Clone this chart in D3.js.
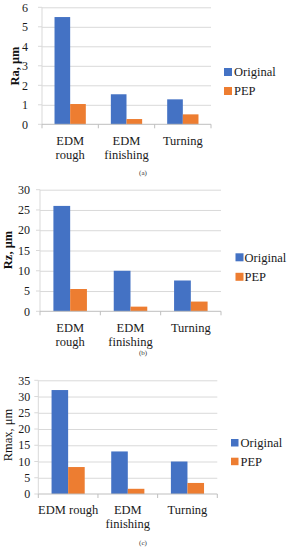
<!DOCTYPE html>
<html>
<head>
<meta charset="utf-8">
<script src="https://cdnjs.cloudflare.com/ajax/libs/d3/7.8.5/d3.min.js"></script>
<style>
  body { margin: 0; background: #fff; }
  svg text { font-family: "Liberation Serif", "Times New Roman", Times, "DejaVu Serif", serif; }
  .grid line { stroke: #d9d9d9; }
  .grid .domain { display: none; }
  .ticklab { font-size: 12px; fill: #1a1a1a; }
  .cat { font-size: 12.5px; fill: #1a1a1a; }
  .legend text { font-size: 12.5px; fill: #1a1a1a; }
  .ytitle { font-size: 12.5px; fill: #111; }
  .panel { font-size: 7px; fill: #333; }
</style>
</head>
<body>
<script>
var categories = ["EDM rough", "EDM finishing", "Turning"];
var seriesNames = ["Original", "PEP"];
var colors = ["#4472C4", "#ED7D31"];

var raOriginal = [5.5, 1.54, 1.28];
var raPEP = [1.04, 0.27, 0.51];
var rzOriginal = [26, 10, 7.6];
var rzPEP = [5.5, 1.15, 2.4];
var rmaxOriginal = [32, 13.1, 10];
var rmaxPEP = [8.3, 1.6, 3.4];

var raTicks = [0, 1, 2, 3, 4, 5, 6];
var rzTicks = [0, 5, 10, 15, 20, 25, 30];
var rmaxTicks = [0, 5, 10, 15, 20, 25, 30, 35];

var yTitles = ["Ra, \u03bcm", "Rz, \u03bcm", "Rmax, \u03bcm"];
var panelLabels = ["(a)", "(b)", "(c)"];

var serif = "'Liberation Serif', 'Times New Roman', Times, 'DejaVu Serif', serif";

//wrap function
function wrap(text, width, lineHeight) {
  text.each(function() {
    var text = d3.select(this),
        words = text.text().split(/\s+/).reverse(),
        word,
        line = [],
        lineNumber = 0,
        x = text.attr("x"),
        y = text.attr("y"),
        tspan = text.text(null).append("tspan").attr("x", x).attr("y", y);
    while (word = words.pop()) {
      line.push(word);
      tspan.text(line.join(" "));
      if (tspan.node().getComputedTextLength() > width && line.length > 1) {
        line.pop();
        tspan.text(line.join(" "));
        line = [word];
        tspan = text.append("tspan").attr("x", x).attr("y", +y + (++lineNumber) * lineHeight).text(word);
      }
    }
  });
}

var svg = d3.select("body").append("svg").attr("width", 290).attr("height", 550)
  .attr("font-family", serif);

var panels = [
  {orig: raOriginal, pep: raPEP, ticks: raTicks, title: yTitles[0], bold: true, label: panelLabels[0],
   left: 42, right: 211, top: 7.3, bottom: 124.3, tickGap: 14, titleX: 15, titleY: 66,
   catY: 145, catLine: 13.5, wrapW: 50, legX: 224, legY: 68, legStep: 19, legSize: 8, legTextGap: 2, panelY: 175},
  {orig: rzOriginal, pep: rzPEP, ticks: rzTicks, title: yTitles[1], bold: true, label: panelLabels[1],
   left: 40, right: 221, top: 189.7, bottom: 311.3, tickGap: 10, titleX: 8, titleY: 250,
   catY: 331.5, catLine: 14.3, wrapW: 50, legX: 235.5, legY: 253.3, legStep: 19.5, legSize: 8, legTextGap: 1, panelY: 355},
  {orig: rmaxOriginal, pep: rmaxPEP, ticks: rmaxTicks, title: yTitles[2], bold: false, label: panelLabels[2],
   left: 38.3, right: 217.3, top: 380.3, bottom: 494, tickGap: 8, titleX: 8, titleY: 435,
   catY: 514, catLine: 14, wrapW: 64, legX: 231, legY: 439, legStep: 18.7, legSize: 7.5, legTextGap: 2, panelY: 545}
];

panels.forEach(function(p) {
  var y = d3.scaleLinear()
      .domain([0, d3.max(p.ticks)])
      .range([p.bottom, p.top]);

  var x0 = d3.scaleBand()
      .domain(categories)
      .range([p.left, p.right]);

  var x1 = d3.scaleBand()
      .domain(seriesNames)
      .range([0, x0.bandwidth()])
      .paddingInner(0)
      .paddingOuter(0.8);

  var g = svg.append("g");

  // gridlines
  g.append("g").attr("class", "grid")
    .attr("transform", "translate(" + p.left + ",0)")
    .call(d3.axisLeft(y).tickValues(p.ticks.slice(1)).tickSize(-(p.right - p.left)).tickFormat(""));

  // left tick marks + axis line
  g.append("line").attr("x1", p.left).attr("x2", p.left).attr("y1", p.top).attr("y2", p.bottom)
    .attr("stroke", "#d9d9d9");
  g.selectAll(".ltick").data(p.ticks).enter().append("line")
    .attr("x1", p.left - 4).attr("x2", p.left)
    .attr("y1", function(d){ return y(d); }).attr("y2", function(d){ return y(d); })
    .attr("stroke", "#d9d9d9");

  // tick labels
  g.selectAll(".ticklab").data(p.ticks).enter().append("text")
    .attr("class", "ticklab")
    .attr("font-family", serif)
    .attr("x", p.left - p.tickGap)
    .attr("y", function(d){ return y(d); })
    .attr("dy", "0.35em")
    .attr("text-anchor", "end")
    .text(function(d){ return d; });

  // bars
  var rows = categories.map(function(c, i) {
    return {cat: c, vals: [p.orig[i], p.pep[i]]};
  });
  var grp = g.selectAll(".grp").data(rows).enter().append("g")
    .attr("transform", function(d){ return "translate(" + x0(d.cat) + ",0)"; });
  grp.selectAll("rect").data(function(d){ return d.vals.map(function(v, j){ return {s: seriesNames[j], v: v, j: j}; }); })
    .enter().append("rect")
    .attr("x", function(d){ return x1(d.s); })
    .attr("width", x1.bandwidth())
    .attr("y", function(d){ return y(d.v); })
    .attr("height", function(d){ return y(0) - y(d.v); })
    .attr("fill", function(d){ return colors[d.j]; });

  // x axis line and boundary ticks
  g.append("line").attr("x1", p.left).attr("x2", p.right).attr("y1", p.bottom).attr("y2", p.bottom)
    .attr("stroke", "#bfbfbf");
  var bounds = categories.map(function(c){ return x0(c); }).concat([x0.range()[1]]);
  g.selectAll(".xtick").data(bounds).enter().append("line")
    .attr("x1", function(d){ return d; }).attr("x2", function(d){ return d; })
    .attr("y1", p.bottom).attr("y2", p.bottom + 4)
    .attr("stroke", "#bfbfbf");

  // category labels
  g.selectAll(".cat").data(categories).enter().append("text")
    .attr("class", "cat")
    .attr("font-family", serif)
    .attr("x", function(d){ return x0(d) + x0.bandwidth() / 2; })
    .attr("y", p.catY)
    .attr("text-anchor", "middle")
    .text(function(d){ return d; })
    .call(wrap, p.wrapW, p.catLine);

  // y title
  g.append("text")
    .attr("class", "ytitle")
    .attr("font-family", serif)
    .attr("transform", "translate(" + p.titleX + "," + p.titleY + ") rotate(-90)")
    .attr("text-anchor", "middle")
    .attr("dy", "0.35em")
    .style("font-weight", p.bold ? "bold" : "normal")
    .text(p.title);

  // legend
  var leg = g.append("g").attr("class", "legend");
  seriesNames.forEach(function(s, j) {
    var ly = p.legY + j * p.legStep;
    leg.append("rect").attr("x", p.legX).attr("y", ly)
      .attr("width", p.legSize).attr("height", p.legSize).attr("fill", colors[j]);
    leg.append("text").attr("font-family", serif)
      .attr("x", p.legX + p.legSize + p.legTextGap).attr("y", ly + p.legSize / 2)
      .attr("dy", "0.35em").text(s);
  });

  // panel label
  g.append("text").attr("class", "panel")
    .attr("font-family", serif)
    .attr("x", 143).attr("y", p.panelY)
    .attr("text-anchor", "middle")
    .text(p.label);
});
</script>
</body>
</html>
